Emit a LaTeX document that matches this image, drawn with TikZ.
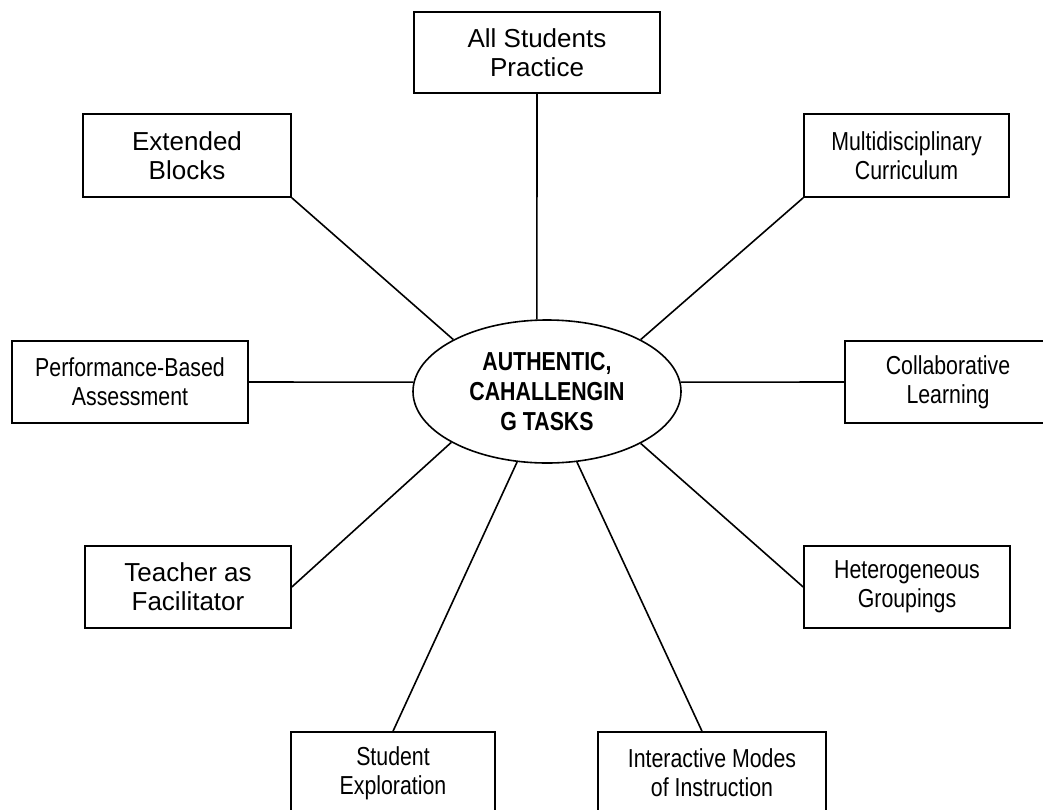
\documentclass[tikz,border=0pt]{standalone}
\usepackage{fontspec}
\setmainfont{Liberation Sans}
\newfontfamily\narrowfont{Liberation Sans}[FakeStretch=0.82]
\usetikzlibrary{shapes.geometric}
\begin{document}
\begin{tikzpicture}[x=1pt,y=-1pt,
  box/.style={draw, line width=1.6pt, inner sep=0pt, align=center, font=\fontsize{26}{29}\selectfont},
  nbox/.style={box, font=\narrowfont\fontsize{26}{29}\selectfont},
  hub/.style={draw, ellipse, line width=1.6pt, inner sep=0pt, align=center, minimum width=268pt, minimum height=143pt, font=\narrowfont\bfseries\fontsize{26}{30}\selectfont},
  link/.style={line width=1.6pt}]
\useasboundingbox (0,0) rectangle (1043,809);
\clip (0,0) rectangle (1043,809);
\fill[white] (0,0) rectangle (1043,809);

\node[hub] (c) at (547,391.5) {AUTHENTIC,\\CAHALLENGIN\\G TASKS};

\node[box, minimum width=246pt, minimum height=81pt] (all) at (537,52.5) {All Students\\Practice};
\node[box, minimum width=208pt, minimum height=83pt] (ext) at (187,155.5) {Extended\\Blocks};
\node[nbox, minimum width=205pt, minimum height=83pt] (multi) at (906.5,155.5) {Multidisciplinary\\Curriculum};
\node[nbox, minimum width=236pt, minimum height=82pt] (perf) at (130,382) {Performance-Based\\Assessment};
\node[nbox, minimum width=206pt, minimum height=82pt] (collab) at (948,382) {Collaborative\\Learning};
\node[box, minimum width=206pt, minimum height=82pt] (teach) at (188,587) {Teacher as\\Facilitator};
\node[nbox, minimum width=206pt, minimum height=82pt] (hetero) at (907,587) {Heterogeneous\\Groupings};
\node[nbox, minimum width=204pt, minimum height=82pt] (stud) at (393,773) {Student\\Exploration};
\node[nbox, minimum width=228pt, minimum height=82pt] (inter) at (712,773) {Interactive Modes\\of Instruction};

\draw[link] (all.south) -- (c.98);
\draw[link] (ext.south east) -- (c.151.3);
\draw[link] (multi.south west) -- (c.29);
\draw[link] (perf.east) -- (c.176);
\draw[link] (collab.west) -- (c.4);
\draw[link] (teach.east) -- (c.208.7);
\draw[link] (hetero.west) -- (c.331);
\draw[link] (stud.north) -- (c.247.2);
\draw[link] ([xshift=-10pt]inter.north) -- (c.293);
\end{tikzpicture}
\end{document}
